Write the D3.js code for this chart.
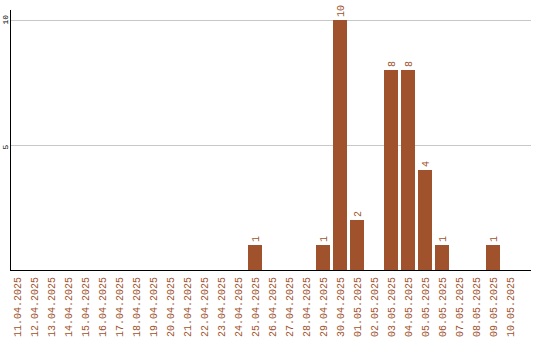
<!DOCTYPE html>
<html>
<head>
<meta charset="utf-8">
<script src="https://cdn.jsdelivr.net/npm/d3@7"></script>
<style>
    body { margin: 0; background: #fff; }
    svg { display: block; }
    text { font-family: "Liberation Mono", monospace; }
</style>
</head>
<body>
<div id="chart"></div>
<script>
const dates = [
    '11.04.2025', '12.04.2025', '13.04.2025', '14.04.2025', '15.04.2025',
    '16.04.2025', '17.04.2025', '18.04.2025', '19.04.2025', '20.04.2025',
    '21.04.2025', '22.04.2025', '23.04.2025', '24.04.2025', '25.04.2025',
    '26.04.2025', '27.04.2025', '28.04.2025', '29.04.2025', '30.04.2025',
    '01.05.2025', '02.05.2025', '03.05.2025', '04.05.2025', '05.05.2025',
    '06.05.2025', '07.05.2025', '08.05.2025', '09.05.2025', '10.05.2025'
];
const counts = [
    0, 0, 0, 0, 0, 0, 0, 0, 0, 0,
    0, 0, 0, 0, 1, 0, 0, 0, 1, 10,
    2, 0, 8, 8, 4, 1, 0, 0, 1, 0
];
const yTicks = [5, 10];

const color = '#a0522d';
const font = '"Liberation Mono", monospace';
const plotLeft = 10, plotRight = 531, plotBottom = 270, plotTop = 10;

const svg = d3.select('#chart')
    .append('svg')
    .attr('width', 540)
    .attr('height', 340);

const data = dates.map((d, i) => ({ label: d, value: counts[i] }));

// band step of 17px, bars 14px wide
const x = d3.scaleBand()
    .domain(dates)
    .range([plotLeft, plotLeft + 17 * (dates.length - 3 / 17)])
    .paddingInner(3 / 17)
    .paddingOuter(0);

const y = d3.scaleLinear()
    .domain([0, 10.4])
    .range([plotBottom, plotTop]);

// grid lines
svg.selectAll('.grid')
    .data(yTicks)
    .enter()
    .append('line')
    .attr('class', 'grid')
    .attr('x1', plotLeft + 1)
    .attr('x2', plotRight)
    .attr('y1', d => Math.round(y(d)) + 0.5)
    .attr('y2', d => Math.round(y(d)) + 0.5)
    .attr('stroke', '#c8c8c8')
    .attr('shape-rendering', 'crispEdges');

// bars
svg.selectAll('.bar')
    .data(data.filter(d => d.value > 0))
    .enter()
    .append('rect')
    .attr('class', 'bar')
    .attr('x', d => x(d.label))
    .attr('y', d => y(d.value))
    .attr('width', x.bandwidth())
    .attr('height', d => plotBottom - y(d.value))
    .attr('fill', color)
    .attr('shape-rendering', 'crispEdges');

// value labels above bars
svg.selectAll('.value')
    .data(data.filter(d => d.value > 0))
    .enter()
    .append('text')
    .attr('class', 'value')
    .attr('transform', d => 'translate(' + (x(d.label) + x.bandwidth() / 2) + ',' + (y(d.value) - 3) + ') rotate(-90)')
    .attr('dy', '0.35em')
    .attr('text-anchor', 'start')
    .attr('font-size', 10)
    .attr('fill', color)
    .text(d => d.value);

// X axis
const xAxis = svg.append('g')
    .attr('transform', 'translate(0,' + plotBottom + ')')
    .call(d3.axisBottom(x).tickSize(0).tickPadding(0));
xAxis.select('.domain').remove();
xAxis.selectAll('.tick text')
    .attr('transform', 'rotate(-90)')
    .attr('x', -7)
    .attr('y', 0)
    .attr('dy', '0.35em')
    .attr('text-anchor', 'end')
    .attr('font-size', 10)
    .attr('font-family', font)
    .attr('fill', color);

// Y axis
const yAxis = svg.append('g')
    .attr('transform', 'translate(' + plotLeft + ',0)')
    .call(d3.axisLeft(y).tickValues(yTicks).tickSize(0).tickPadding(0));
yAxis.select('.domain').remove();
yAxis.selectAll('.tick text')
    .attr('transform', 'rotate(-90)')
    .attr('x', -4)
    .attr('y', -2)
    .attr('dy', 0)
    .attr('text-anchor', 'start')
    .attr('font-size', 8)
    .attr('font-family', font)
    .attr('fill', '#000');

// axis lines
svg.append('line')
    .attr('x1', plotLeft + 0.5).attr('x2', plotLeft + 0.5)
    .attr('y1', plotTop).attr('y2', plotBottom + 1)
    .attr('stroke', '#000')
    .attr('shape-rendering', 'crispEdges');
svg.append('line')
    .attr('x1', plotLeft).attr('x2', plotRight)
    .attr('y1', plotBottom + 0.5).attr('y2', plotBottom + 0.5)
    .attr('stroke', '#000')
    .attr('shape-rendering', 'crispEdges');
</script>
</body>
</html>
